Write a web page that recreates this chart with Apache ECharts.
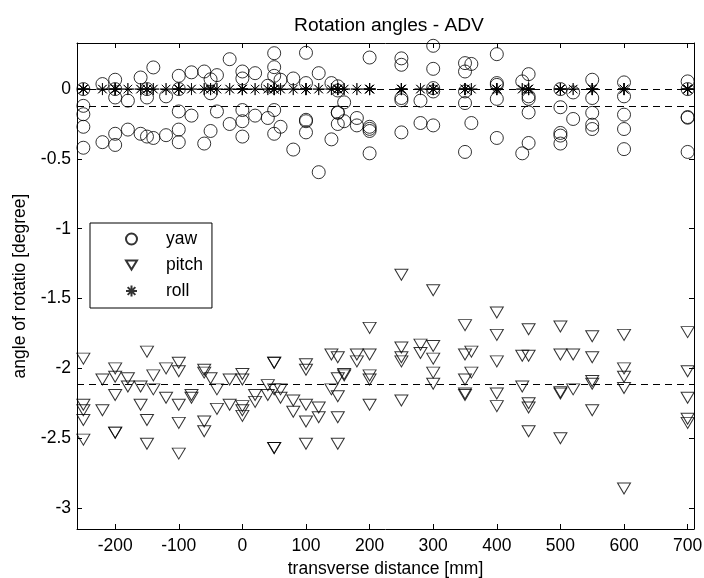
<!DOCTYPE html>
<html>
<head>
<meta charset="utf-8">
<script src="https://cdn.jsdelivr.net/npm/echarts@6/dist/echarts.min.js"></script>
<style>html,body{margin:0;padding:0;background:#fff}#c{width:704px;height:578px}</style>
</head>
<body>
<div id="c"></div>
<script>
// measurement positions (mm)
var positions = [-250,-220,-200,-180,-160,-150,-140,-120,-100,-80,-60,-50,-40,-20,0,20,40,50,60,80,100,120,140,150,160,180,200,250,280,300,350,360,400,440,450,500,520,550,600,700];

var yawVals = [
  [0.0,-0.12,-0.18,-0.27,-0.42],
  [0.036,-0.38],
  [0.067,0.0,-0.06,-0.32,-0.40],
  [-0.083,-0.29],
  [0.083,-0.32],
  [0.0,-0.06,-0.34],
  [0.155,-0.35],
  [-0.052,-0.33],
  [0.095,0.0,-0.16,-0.29,-0.38],
  [0.12,-0.19],
  [0.126,-0.39],
  [0.07,-0.03,-0.30],
  [0.10,-0.16],
  [0.214,-0.25],
  [0.126,0.076,-0.15,-0.23,-0.34],
  [0.114,-0.19],
  [0.024,-0.207],
  [0.257,0.157,0.095,-0.15,-0.32],
  [0.067,-0.27],
  [0.076,-0.433],
  [0.26,0.043,-0.22,-0.23,-0.31],
  [0.114,-0.595],
  [0.043,-0.36],
  [0.02,-0.01,-0.167,-0.17,-0.25],
  [-0.095,-0.23],
  [-0.207,-0.26],
  [0.226,-0.27,-0.285,-0.30,-0.46],
  [0.22,0.174,-0.064,-0.08,-0.31],
  [-0.083,-0.243],
  [0.31,0.145,0.007,-0.017,-0.26],
  [0.186,0.126,-0.017,-0.10,-0.45],
  [0.18,-0.243],
  [0.25,0.043,0.03,-0.07,-0.35],
  [0.055,-0.46],
  [0.107,-0.052,-0.07,-0.167,-0.386],
  [0.0,-0.13,-0.314,-0.333,-0.39],
  [-0.024,-0.214],
  [0.067,-0.064,-0.17,-0.255,-0.286],
  [0.048,-0.052,-0.183,-0.286,-0.43],
  [0.055,0.0,-0.2,-0.205,-0.45]
];

var pitchVals = [
  [-1.93,-2.26,-2.30,-2.37,-2.51],
  [-2.08,-2.30],
  [-2.00,-2.06,-2.19,-2.46,-2.46],
  [-2.07,-2.13],
  [-2.13,-2.26],
  [-1.88,-2.37,-2.54],
  [-2.05,-2.15],
  [-2.00,-2.21],
  [-1.96,-2.02,-2.26,-2.39,-2.61],
  [-2.19,-2.21],
  [-2.01,-2.03,-2.38,-2.45],
  [-2.07],
  [-2.15,-2.29],
  [-2.08,-2.26],
  [-2.04,-2.08,-2.27,-2.30,-2.34],
  [-2.19,-2.24],
  [-2.12,-2.19],
  [-1.96,-1.96,-2.15,-2.57,-2.57],
  [-2.15,-2.21],
  [-2.23,-2.31],
  [-1.97,-2.01,-2.26,-2.38,-2.54],
  [-2.28,-2.35],
  [-1.90,-2.15],
  [-1.92,-2.07,-2.20,-2.35,-2.54],
  [-2.04,-2.05],
  [-1.90,-1.95],
  [-1.71,-1.90,-2.05,-2.08,-2.26],
  [-1.33,-1.85,-1.92,-1.95,-2.23],
  [-1.83,-1.89],
  [-1.44,-1.84,-1.93,-2.03,-2.11],
  [-1.69,-1.90,-2.08,-2.18,-2.19],
  [-1.88,-2.03],
  [-1.60,-1.76,-1.95,-2.18,-2.27],
  [-1.91,-2.13],
  [-1.72,-1.91,-2.25,-2.28,-2.45],
  [-1.70,-1.90,-2.17,-2.18,-2.50],
  [-1.90,-2.15],
  [-1.77,-1.92,-2.09,-2.11,-2.30],
  [-1.76,-2.00,-2.06,-2.14,-2.86],
  [-1.74,-2.02,-2.21,-2.36,-2.39]
];

var rollVals = [
  [0,0,0,0,0],[0,0],[0,0,0,0,0],[0,0],[0,0],[0,0,0],[0,0],[0,0],[0,0,0,0,0],[0,0],
  [0,0],[0,0,0],[0,0],[0,0],[0,0,0,0,0],[0,0],[0,0],[0,0,0,0,0],[0,0],[0,0],
  [0,0,0,0,0],[0,0],[0,0],[0,0,0,0,0],[0,0],[0,0],[0,0,0,0,0],[0,0,0,0,0],[0,0],[0,0,0,0,0],
  [0,0,0,0,0],[0,0],[0,0,0,0,0],[0,0],[0,0,0,0,0],[0,0,0,0,0],[0,0],[0,0,0,0,0],[0,0,0,0,0],[0,0,0,0,0]
];

// reference (dashed) lines: roll mean, yaw mean, pitch mean
var refLines = [0, -0.12, -2.11];

var seriesNames = ['yaw', 'pitch', 'roll'];
var titleText = 'Rotation angles - ADV';
var xName = 'transverse distance [mm]';
var yName = 'angle of rotatio [degree]';

function pairs(vals) {
  var out = [];
  for (var i = 0; i < positions.length; i++) {
    for (var j = 0; j < vals[i].length; j++) out.push([positions[i], vals[i][j]]);
  }
  return out;
}

var FONT = 'Liberation Sans';
var FS = 17.5;
var TFS = 19.2;
var starPath = 'path://M6,0L6,12M0,6L12,6M1.8,1.8L10.2,10.2M1.8,10.2L10.2,1.8';
var triDownPath = 'path://M0,0L12,0L6,10Z';

var hollow = { color: 'rgba(0,0,0,0)', borderColor: '#000', borderWidth: 1 };

var chart = echarts.init(document.getElementById('c'), null, { renderer: 'canvas' });
chart.setOption({
  animation: false,
  backgroundColor: '#fff',
  textStyle: { fontFamily: FONT },
  title: {
    text: titleText, left: 384, top: 11, textAlign: 'center',
    textStyle: { fontFamily: FONT, fontSize: TFS, fontWeight: 'normal', color: '#000' }
  },
  legend: {
    orient: 'vertical', left: 90, top: 223,
    padding: [7, 9, 8, 35],
    itemWidth: 11, itemHeight: 11, itemGap: 8,
    borderColor: '#000', borderWidth: 1, backgroundColor: '#fff',
    textStyle: { fontFamily: FONT, fontSize: FS, color: '#000', padding: [0, 0, 0, 24] },
    data: [
      { name: seriesNames[0], icon: 'circle' },
      { name: seriesNames[1], icon: triDownPath },
      { name: seriesNames[2], icon: starPath }
    ]
  },
  grid: { left: 77, right: 10, top: 43, bottom: 49, outerBoundsMode: 'none', containLabel: false },
  xAxis: [{
    type: 'value', min: -260, max: 710, splitNumber: 10,
    name: xName, nameLocation: 'middle', nameGap: 30,
    nameTextStyle: { fontFamily: FONT, fontSize: FS, color: '#000' },
    axisLine: { show: true, onZero: false, lineStyle: { color: '#000', width: 1 } },
    axisTick: { inside: true, length: 5, lineStyle: { color: '#000' } },
    axisLabel: { fontFamily: FONT, fontSize: FS, color: '#000', margin: 8, showMinLabel: false, showMaxLabel: false },
    splitLine: { show: false }
  }, {
    type: 'value', position: 'top', min: -260, max: 710, splitNumber: 10,
    axisLine: { show: true, onZero: false, lineStyle: { color: '#000', width: 1 } },
    axisTick: { inside: true, length: 5, lineStyle: { color: '#000' } },
    axisLabel: { show: false }, splitLine: { show: false }
  }],
  yAxis: [{
    type: 'value', min: -3.15, max: 0.33, splitNumber: 7,
    name: yName, nameLocation: 'middle', nameGap: 48, nameRotate: 90,
    nameTextStyle: { fontFamily: FONT, fontSize: FS, color: '#000' },
    axisLine: { show: true, onZero: false, lineStyle: { color: '#000', width: 1 } },
    axisTick: { inside: true, length: 5, lineStyle: { color: '#000' } },
    axisLabel: { fontFamily: FONT, fontSize: FS, color: '#000', margin: 6, showMinLabel: false, showMaxLabel: false },
    splitLine: { show: false }
  }, {
    type: 'value', position: 'right', min: -3.15, max: 0.33, splitNumber: 7,
    axisLine: { show: true, onZero: false, lineStyle: { color: '#000', width: 1 } },
    axisTick: { inside: true, length: 5, lineStyle: { color: '#000' } },
    axisLabel: { show: false }, splitLine: { show: false }
  }],
  series: [{
    name: seriesNames[0], type: 'scatter', symbol: 'circle', symbolSize: 13,
    itemStyle: hollow, data: pairs(yawVals), z: 3,
    markLine: {
      silent: true, symbol: 'none', label: { show: false },
      lineStyle: { color: '#000', width: 1, type: [7, 5] },
      data: refLines.map(function (v) { return { yAxis: v }; })
    }
  }, {
    name: seriesNames[1], type: 'scatter', symbol: 'triangle', symbolRotate: 180, symbolSize: [13, 11],
    itemStyle: hollow, data: pairs(pitchVals), z: 3
  }, {
    name: seriesNames[2], type: 'scatter', symbol: starPath, symbolSize: 12,
    itemStyle: { color: 'rgba(0,0,0,0)', borderColor: '#000', borderWidth: 1 },
    data: pairs(rollVals), z: 4
  }]
});
</script>
</body>
</html>
